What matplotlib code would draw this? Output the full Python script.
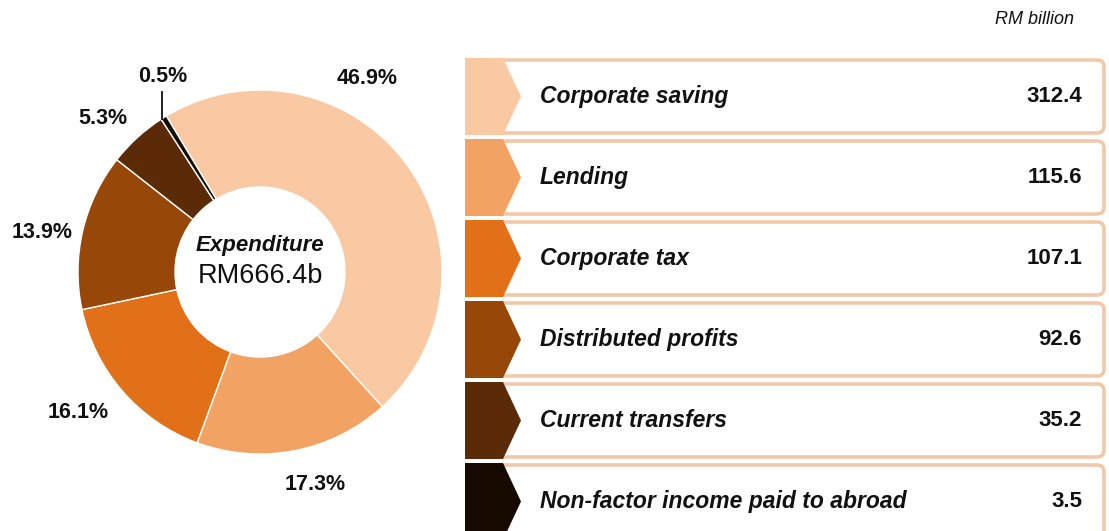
import matplotlib.pyplot as plt
from matplotlib.patches import FancyBboxPatch, Polygon

plt.rcParams['font.family'] = ['Liberation Sans', 'DejaVu Sans']

# --- data ---
categories = ["Corporate saving", "Lending", "Corporate tax",
              "Distributed profits", "Current transfers",
              "Non-factor income paid to abroad"]
values = [312.4, 115.6, 107.1, 92.6, 35.2, 3.5]
colors = ["#F9C9A3", "#F2A262", "#E27018", "#974708", "#5B2A07", "#160900"]
total_label = "RM666.4b"
unit_label = "RM billion"

# percentage label positions (pixel layout, y from top)
pct_pos = [(367, 78), (315, 485), (78, 412), (42, 232), (103, 118), (163, 77)]

W, H = 1109, 531
fig = plt.figure(figsize=(W / 100, H / 100), dpi=100)
ax = fig.add_axes([0, 0, 1, 1])


def Y(y):
    return H - y


# --- donut ---
cx, cy, R, r_in = 260, 272, 182, 85
ax.pie(values, colors=colors, startangle=121, counterclock=False,
       radius=R, center=(cx, Y(cy)),
       wedgeprops=dict(width=R - r_in, edgecolor="white", linewidth=1))

total = sum(values)
for v, (px, py) in zip(values, pct_pos):
    ax.text(px, Y(py), f"{v / total * 100:.1f}%", ha="center", va="center",
            fontsize=15.5, fontweight="bold", color="#111111")
# leader for the smallest slice
ax.plot([162, 162], [Y(92), Y(119)], color="#111111", lw=1.3)

ax.text(cx, Y(245), "Expenditure", ha="center", va="center", fontsize=16,
        fontweight="bold", fontstyle="italic", color="#111111")
ax.text(cx, Y(276), total_label, ha="center", va="center", fontsize=19.5,
        color="#111111")

# --- right panel ---
ax.text(1074, Y(20), unit_label, ha="right", va="center", fontsize=13,
        fontstyle="italic", color="#111111")

x0, x1 = 465, 1106
row_h, pitch, top0 = 73, 81, 60
for i, (cat, v, c) in enumerate(zip(categories, values, colors)):
    top = top0 + i * pitch
    bot = top + row_h
    mid = (top + bot) / 2
    box = FancyBboxPatch((x0 + 4, Y(bot)), x1 - x0 - 6, row_h,
                         boxstyle="round,pad=0,rounding_size=7",
                         facecolor="white", edgecolor="#EFC9AA", lw=2.6,
                         zorder=2)
    ax.add_patch(box)
    chev = Polygon([(x0, Y(top - 2)), (503, Y(top - 2)), (521, Y(mid)),
                    (503, Y(bot + 2)), (x0, Y(bot + 2))],
                   closed=True, facecolor=c, edgecolor="none", zorder=3)
    ax.add_patch(chev)
    ax.text(540, Y(mid), cat, ha="left", va="center", fontsize=16.5,
            fontweight="bold", fontstyle="italic", color="#111111", zorder=4)
    ax.text(1082, Y(mid), f"{v:.1f}", ha="right", va="center", fontsize=16,
            fontweight="bold", color="#111111", zorder=4)

ax.set_xlim(0, W)
ax.set_ylim(0, H)
ax.set_aspect("auto")
ax.axis("off")

fig.savefig("out.png", dpi=100, facecolor="white")
